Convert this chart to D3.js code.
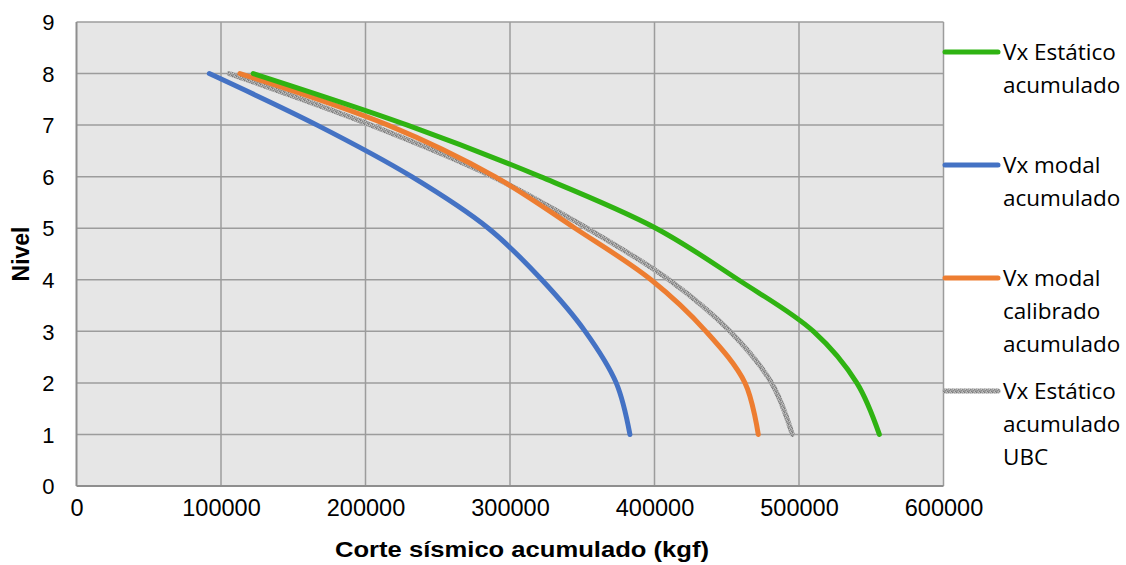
<!DOCTYPE html>
<html>
<head>
<meta charset="utf-8">
<script src="https://cdn.jsdelivr.net/npm/d3@7"></script>
<style>
  html, body { margin: 0; padding: 0; background: #fff; }
  svg { display: block; }
</style>
</head>
<body>
<svg id="chart" width="1126" height="565"></svg>
<script>
// ---- data ----
const levels = [1, 2, 3, 4, 5, 6, 7, 8];
const vxEstatico      = [555600, 540000, 510000, 458000, 401000, 321000, 229000, 122300];
const vxModal         = [383000, 373500, 352000, 322000, 285000, 232000, 166500, 91900];
const vxModalCalib    = [471800, 462600, 435600, 397600, 345000, 289600, 215600, 113100];
const vxEstaticoUBC   = [495400, 481000, 452200, 410000, 353300, 288000, 203800, 105700];
const xTicks = [0, 100000, 200000, 300000, 400000, 500000, 600000];
const yTicks = [0, 1, 2, 3, 4, 5, 6, 7, 8, 9];
const seriesNames = [
  ["Vx Estático", "acumulado"],
  ["Vx modal", "acumulado"],
  ["Vx modal", "calibrado", "acumulado"],
  ["Vx Estático", "acumulado", "UBC"]
];
const xTitle = "Corte sísmico acumulado (kgf)";
const yTitle = "Nivel";

// ---- layout ----
const svg = d3.select("#chart");
const L = 76.5, R = 943.5, T = 22, B = 486;
const x = d3.scaleLinear().domain([0, 600000]).range([L, R]);
const y = d3.scaleLinear().domain([0, 9]).range([B, T]);

// texture pattern for the UBC line
const defs = svg.append("defs");
const pat = defs.append("pattern").attr("id", "speckle")
  .attr("width", 4).attr("height", 4).attr("patternUnits", "userSpaceOnUse");
pat.append("rect").attr("width", 4).attr("height", 4).attr("fill", "#a2a2a2");
[[0,0,"#7a7a7a"],[2,1,"#858585"],[1,2,"#8a8a8a"],[3,3,"#7e7e7e"],[3,0,"#bdbdbd"],[0,3,"#969696"],[1,1,"#c4c4c4"],[2,3,"#c0c0c0"]]
  .forEach(([px, py, c]) => pat.append("rect").attr("x", px).attr("y", py).attr("width", 1).attr("height", 1).attr("fill", c));

// plot background
svg.append("rect").attr("x", L).attr("y", T).attr("width", R - L).attr("height", B - T)
  .attr("fill", "#e6e6e6");

// gridlines
svg.append("g").selectAll("line").data(xTicks.slice(1)).join("line")
  .attr("x1", d => x(d)).attr("x2", d => x(d)).attr("y1", T).attr("y2", B)
  .attr("stroke", "#9c9c9c").attr("stroke-width", 1.5);
svg.append("g").selectAll("line").data(yTicks.slice(1)).join("line")
  .attr("x1", L).attr("x2", R).attr("y1", d => y(d)).attr("y2", d => y(d))
  .attr("stroke", "#9c9c9c").attr("stroke-width", 1.5);

// axes lines
svg.append("line").attr("x1", L).attr("x2", L).attr("y1", T).attr("y2", B)
  .attr("stroke", "#8e8e8e").attr("stroke-width", 2);
svg.append("line").attr("x1", L).attr("x2", R).attr("y1", B).attr("y2", B)
  .attr("stroke", "#8e8e8e").attr("stroke-width", 2);

// tick labels via d3 axes
const xAxis = svg.append("g").attr("transform", `translate(0,${B})`)
  .call(d3.axisBottom(x).tickValues(xTicks).tickFormat(d3.format("d")).tickSize(0).tickPadding(22));
xAxis.select(".domain").remove();
xAxis.selectAll("text").attr("font-family", "Liberation Sans, Arial, sans-serif")
  .attr("font-size", 23.5).attr("fill", "#000").attr("dy", "0.36em");

const yAxis = svg.append("g").attr("transform", `translate(${L},0)`)
  .call(d3.axisLeft(y).tickValues(yTicks).tickFormat(d3.format("d")).tickSize(0).tickPadding(22));
yAxis.select(".domain").remove();
yAxis.selectAll("text").attr("font-family", "Liberation Sans, Arial, sans-serif")
  .attr("font-size", 22).attr("fill", "#000").attr("dy", "0.35em");

// axis titles
svg.append("text").attr("x", 522).attr("y", 557).attr("text-anchor", "middle")
  .attr("font-family", "Liberation Sans, Arial, sans-serif").attr("font-weight", "bold")
  .attr("font-size", 22).attr("textLength", 374).attr("lengthAdjust", "spacingAndGlyphs")
  .text(xTitle);
svg.append("text").attr("transform", "translate(29,254) rotate(-90)").attr("text-anchor", "middle")
  .attr("font-family", "Liberation Sans, Arial, sans-serif").attr("font-weight", "bold")
  .attr("font-size", 23).text(yTitle);

// lines
const series = [
  { vals: vxEstatico,    color: "#2fb312" },
  { vals: vxModal,       color: "#4472c4" },
  { vals: vxModalCalib,  color: "#ed7d31" },
  { vals: vxEstaticoUBC, color: "url(#speckle)" }
];
const line = d3.line().x(d => x(d[0])).y(d => y(d[1])).curve(d3.curveCatmullRom.alpha(0.5));
const drawOrder = [3, 2, 0, 1];
drawOrder.forEach(i => {
  const s = series[i];
  svg.append("path").datum(s.vals.map((v, k) => [v, levels[k]]))
    .attr("d", line).attr("fill", "none").attr("stroke", s.color)
    .attr("stroke-width", 5).attr("stroke-linecap", "round").attr("stroke-linejoin", "round");
});

// legend
const legendY = [52, 165, 278, 391];
series.forEach((s, i) => {
  const g = svg.append("g");
  g.append("line").attr("x1", 945).attr("x2", 998).attr("y1", legendY[i]).attr("y2", legendY[i])
    .attr("stroke", s.color).attr("stroke-width", 5).attr("stroke-linecap", "round");
  const t = g.append("text").attr("font-family", "Open Sans, sans-serif").attr("font-size", 22.5).attr("fill", "#000");
  seriesNames[i].forEach((ln, j) => {
    t.append("tspan").attr("x", 1003).attr("y", legendY[i] + 8 + j * 33).text(ln);
  });
});
</script>
</body>
</html>
